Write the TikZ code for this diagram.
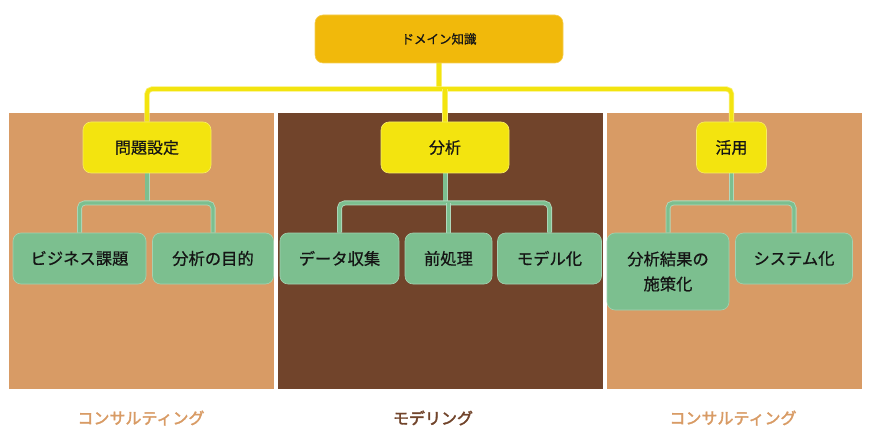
\documentclass[tikz,border=0pt]{standalone}
\usepackage{fontspec}
\setmainfont{Noto Sans CJK JP}[AutoFakeBold=2.2]
\newfontfamily\jpm{Noto Sans CJK JP}[FakeBold=0.7]
\definecolor{topc}{HTML}{F1B90B}
\definecolor{yelc}{HTML}{F3E40F}
\definecolor{grnc}{HTML}{7CBF8F}
\definecolor{tanc}{HTML}{D89B65}
\definecolor{brnc}{HTML}{71442B}
\definecolor{txtc}{HTML}{151515}
\pgfdeclarelayer{panels}
\pgfdeclarelayer{links}
\pgfsetlayers{panels,links,main}
\tikzset{
  topbox/.style={rounded corners=8pt, fill=topc, draw=topc!70!white, line width=0.6pt, text=txtc,
    minimum width=248pt, minimum height=48pt, font=\jpm\fontsize{12.5}{14}\selectfont, inner sep=0pt},
  ybox/.style={rounded corners=8pt, fill=yelc, draw=yelc!65!white, line width=0.6pt, text=txtc,
    minimum height=51pt, font=\jpm\fontsize{16}{18}\selectfont, inner sep=0pt},
  gbox/.style={rounded corners=8pt, fill=grnc, draw=grnc!70!white, line width=0.6pt, text=txtc,
    minimum height=51pt, font=\jpm\fontsize{16.3}{25}\selectfont, inner sep=0pt, align=center},
  ylink/.style={draw=yelc, line width=3.6pt, rounded corners=5pt,
    preaction={draw=yelc!60!white, line width=5.2pt}},
  glink/.style={draw=grnc, line width=3.4pt, rounded corners=5pt,
    preaction={draw=grnc!60!white, line width=5pt}},
  foot/.style={font=\fontsize{16}{18}\selectfont\bfseries, inner sep=0pt}
}
\begin{document}
\begin{tikzpicture}[x=1pt,y=-1pt]
\useasboundingbox (0,0) rectangle (874,438);
\begin{pgfonlayer}{panels}
\fill[tanc] (9,113) rectangle (274,389);
\fill[brnc] (278,113) rectangle (603,389);
\fill[tanc] (607,113) rectangle (862,389);
\end{pgfonlayer}
% coordinates
\coordinate (j0) at (439,89);
\coordinate (j1) at (147,203);
\coordinate (j2) at (445,203);
\coordinate (j3) at (731.5,203);
% nodes
\node[topbox] (top) at (439,39) {ドメイン知識};
\node[ybox, minimum width=128pt] (p1) at (147,147.5) {問題設定};
\node[ybox, minimum width=128pt] (p2) at (445,147.5) {分析};
\node[ybox, minimum width=70pt] (p3) at (731.5,147.5) {活用};
\node[gbox, minimum width=133pt] (g1) at (79.5,258.5) {ビジネス課題};
\node[gbox, minimum width=121pt] (g2) at (213,258.5) {分析の目的};
\node[gbox, minimum width=119pt] (g3) at (339.5,258.5) {データ収集};
\node[gbox, minimum width=87pt] (g4) at (448.5,258.5) {前処理};
\node[gbox, minimum width=104pt] (g5) at (549.5,258.5) {モデル化};
\node[gbox, minimum width=122pt, minimum height=77pt] (g6) at (668,271.5) {分析結果の\\施策化};
\node[gbox, minimum width=117pt] (g7) at (794,258.5) {システム化};
% links
\begin{pgfonlayer}{links}
\draw[ylink] (top.south) -- (j0);
\draw[ylink] (p1.north) |- (j0) -| (p3.north);
\draw[ylink] (p2.north |- j0) -- (p2.north);
\draw[glink] (p1.south) -- (j1);
\draw[glink] (p2.south) -- (j2);
\draw[glink] (p3.south) -- (j3);
\draw[glink] (g1.north) |- (j1) -| (g2.north);
\draw[glink] (g3.north) |- (j2) -| (g5.north);
\draw[glink] (j2 -| g4.north) -- (g4.north);
\draw[glink] (g6.north) |- (j3) -| (g7.north);
\end{pgfonlayer}
% footer labels
\node[foot, text=tanc] (f1) at (141,418) {コンサルティング};
\node[foot, text=brnc] (f2) at (433,418) {モデリング};
\node[foot, text=tanc] (f3) at (733,418) {コンサルティング};
\end{tikzpicture}
\end{document}
